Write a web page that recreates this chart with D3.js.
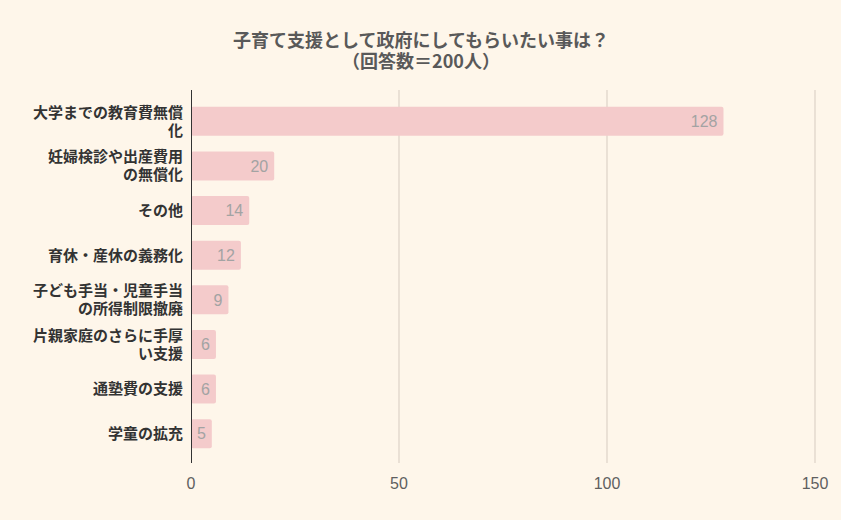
<!DOCTYPE html>
<html>
<head>
<meta charset="utf-8">
<script src="https://cdn.jsdelivr.net/npm/d3@7"></script>
<style>
  body { margin: 0; background: #fef6ea; }
  svg { display: block; font-family: "Liberation Sans", "Noto Sans CJK JP", sans-serif; }
</style>
</head>
<body>
<div id="chart"></div>
<script>
var titleLines = ['子育て支援として政府にしてもらいたい事は？', '（回答数＝200人）'];

// categories, line breaks as in the picture
var categories = [
  '大学までの教育費無償\n化',
  '妊婦検診や出産費用\nの無償化',
  'その他',
  '育休・産休の義務化',
  '子ども手当・児童手当\nの所得制限撤廃',
  '片親家庭のさらに手厚\nい支援',
  '通塾費の支援',
  '学童の拡充'
];
var values = [128, 20, 14, 12, 9, 6, 6, 5];
var xTicks = [0, 50, 100, 150];

var width = 841,
  height = 520;

var svg = d3.select('#chart').append('svg')
  .attr('width', width)
  .attr('height', height);

svg.append('rect')
  .attr('width', width)
  .attr('height', height)
  .attr('fill', '#fef6ea');

// title
svg.append('g').selectAll('text')
    .data(titleLines)
  .enter().append('text')
    .attr('x', 421)
    .attr('y', function (d, i) { return 47 + i * 21; })
    .attr('text-anchor', 'middle')
    .attr('font-family', '"Noto Sans CJK JP", sans-serif')
    .attr('font-size', 18)
    .attr('font-weight', 'bold')
    .attr('fill', '#595959')
    .text(function (d) { return d; });

var x = d3.scaleLinear()
  .domain([0, 150])
  .range([191, 815]);

var y = d3.scaleBand()
  .domain(categories)
  .range([99, 456])
  .paddingInner(0.35)
  .paddingOuter(0.175);

var plotTop = 90, plotBottom = 463;

// grid
svg.append('g').selectAll('line')
    .data(xTicks.slice(1))
  .enter().append('line')
    .attr('x1', function (d) { return x(d); })
    .attr('x2', function (d) { return x(d); })
    .attr('y1', plotTop)
    .attr('y2', plotBottom)
    .attr('stroke', '#d6cbc0')
    .attr('stroke-width', 1);

// bars
svg.append('g').selectAll('rect')
    .data(values)
  .enter().append('rect')
    .attr('x', x(0))
    .attr('y', function (d, i) { return y(categories[i]); })
    .attr('width', function (d) { return x(d) - x(0); })
    .attr('height', y.bandwidth())
    .attr('rx', 2)
    .attr('fill', '#f4cbcb');

// value labels
svg.append('g').selectAll('text')
    .data(values)
  .enter().append('text')
    .attr('x', function (d) { return x(d) - 6; })
    .attr('y', function (d, i) { return y(categories[i]) + y.bandwidth() / 2; })
    .attr('dy', '0.36em')
    .attr('text-anchor', 'end')
    .attr('font-size', 16)
    .attr('fill', '#a3a3a3')
    .text(function (d) { return d; });

// zero axis
svg.append('line')
  .attr('x1', x(0) + 0.5)
  .attr('x2', x(0) + 0.5)
  .attr('y1', plotTop)
  .attr('y2', plotBottom)
  .attr('stroke', '#333')
  .attr('stroke-width', 1);

// x tick labels
svg.append('g').selectAll('text')
    .data(xTicks)
  .enter().append('text')
    .attr('x', function (d) { return x(d); })
    .attr('y', 489)
    .attr('text-anchor', 'middle')
    .attr('font-size', 16)
    .attr('fill', '#5f5f5f')
    .text(function (d) { return d; });

// category labels
var cat = svg.append('g').selectAll('text')
    .data(categories)
  .enter().append('text')
    .attr('x', 183)
    .attr('text-anchor', 'end')
    .attr('font-family', '"Noto Sans CJK JP", sans-serif')
    .attr('font-size', 15)
    .attr('font-weight', 'bold')
    .attr('fill', '#333');

cat.each(function (d) {
  var lines = d.split('\n');
  var cy = y(d) + y.bandwidth() / 2;
  var lh = 18;
  var top = cy - (lines.length - 1) * lh / 2;
  d3.select(this).selectAll('tspan')
      .data(lines)
    .enter().append('tspan')
      .attr('x', 183)
      .attr('y', function (l, i) { return top + i * lh; })
      .attr('dy', '0.36em')
      .text(function (l) { return l; });
});
</script>
</body>
</html>
